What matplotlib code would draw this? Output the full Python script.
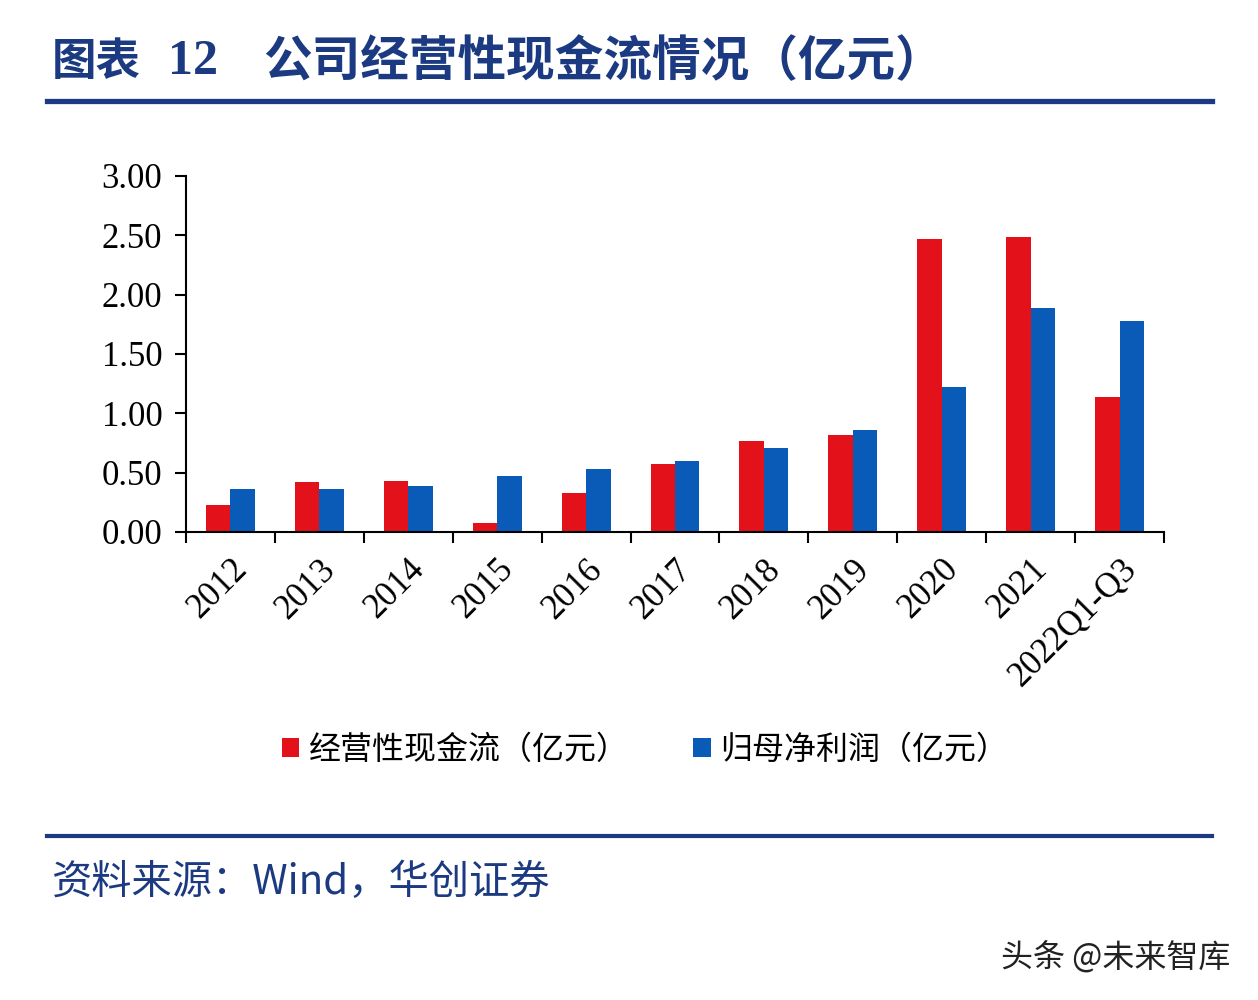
import matplotlib
matplotlib.use("Agg")
import matplotlib.pyplot as plt
import numpy as np
from matplotlib.lines import Line2D
from matplotlib.patches import Patch

plt.rcParams['font.family'] = ['Noto Sans CJK SC', 'DejaVu Sans']

categories = ["2012", "2013", "2014", "2015", "2016", "2017", "2018", "2019",
              "2020", "2021", "2022Q1-Q3"]
cash_flow = [0.23, 0.42, 0.43, 0.08, 0.33, 0.57, 0.77, 0.82, 2.47, 2.49, 1.14]
net_profit = [0.36, 0.36, 0.39, 0.47, 0.53, 0.60, 0.71, 0.86, 1.22, 1.89, 1.78]
series_names = ["经营性现金流（亿元）", "归母净利润（亿元）"]
yticks = [0.0, 0.5, 1.0, 1.5, 2.0, 2.5, 3.0]

RED = "#e2111a"
BLUE = "#0a5bb8"
NAVY = "#1b3a82"
W, H = 1258, 1000

fig = plt.figure(figsize=(W / 100, H / 100), dpi=100)
fig.patch.set_facecolor("white")

ax = fig.add_axes([186 / W, 1 - 532 / H, (1164 - 186) / W, (532 - 176) / H])
x = np.arange(len(categories))
bw = 0.275
ax.bar(x - bw / 2, cash_flow, width=bw, color=RED, label=series_names[0])
ax.bar(x + bw / 2, net_profit, width=bw, color=BLUE, label=series_names[1])

ax.set_xlim(-0.5, len(categories) - 0.5)
ax.set_ylim(0, 3.0)
ax.set_yticks(yticks)
ax.set_yticklabels([f"{v:.2f}" for v in yticks], family="Liberation Serif", fontsize=25)
ax.set_xticks(x)
ax.set_xticklabels(categories, family="Liberation Serif", fontsize=25,
                   rotation=45, ha="right", va="top", rotation_mode="anchor")
ax.tick_params(axis="x", which="major", length=0, pad=15)
ax.set_xticks(np.arange(-0.5, len(categories), 1.0), minor=True)
ax.tick_params(axis="x", which="minor", length=8, width=1.5, direction="out", color="black")
ax.tick_params(axis="y", length=8, width=1.5, direction="out", pad=9)
for s in ["top", "right"]:
    ax.spines[s].set_visible(False)
ax.spines["left"].set_linewidth(1.5)
ax.spines["bottom"].set_linewidth(1.5)

handles = [Patch(facecolor=RED), Patch(facecolor=BLUE)]
fig.legend(handles, series_names, loc="center", bbox_to_anchor=(645 / W, 1 - 750 / H),
           ncol=2, frameon=False, fontsize=23, handlelength=0.55, handleheight=0.55,
           handletextpad=0.3, columnspacing=2.0)

# title
fig.text(52 / W, 1 - 62 / H, "图表", fontsize=32, fontweight="bold", color=NAVY,
         va="center", ha="left")
fig.text(168 / W, 1 - 62 / H, "12", fontsize=36, fontweight="bold", color=NAVY,
         va="center", ha="left", family="Liberation Serif")
fig.text(263 / W, 1 - 62 / H, "公司经营性现金流情况（亿元）", fontsize=35, fontweight="bold",
         color=NAVY, va="center", ha="left")
fig.add_artist(Line2D([47 / W, 1212 / W], [1 - 101 / H, 1 - 101 / H], color=NAVY,
                      linewidth=3.8, transform=fig.transFigure))
fig.add_artist(Line2D([47 / W, 1212 / W], [1 - 836 / H, 1 - 836 / H], color=NAVY,
                      linewidth=3.0, transform=fig.transFigure))

fig.text(52 / W, 1 - 882 / H, "资料来源：Wind，华创证券", fontsize=29, color=NAVY,
         va="center", ha="left", style="italic")
fig.text(1230 / W, 1 - 957 / H, "头条 @未来智库", fontsize=23, color="#222222",
         va="center", ha="right")

fig.savefig("out.png", dpi=100)
